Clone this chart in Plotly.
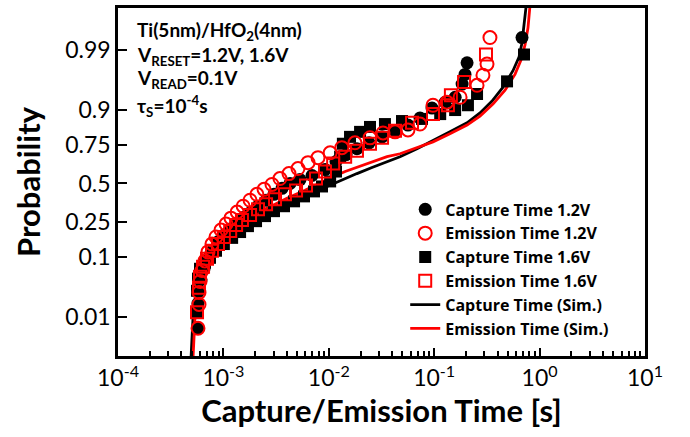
import statistics
import plotly.graph_objects as go

# ---------------- data ----------------
cap12_t = [5.74e-4, 5.74e-4, 5.87e-4, 6.13e-4, 6.55e-4, 7.14e-4, 7.97e-4, 8.89e-4, 1.01e-3, 1.16e-3,
           1.35e-3, 1.57e-3, 1.83e-3, 2.13e-3, 2.54e-3, 3.02e-3, 3.60e-3, 4.29e-3, 5.33e-3, 6.93e-3,
           9.20e-3, 1.17e-2, 1.46e-2, 1.85e-2, 2.41e-2, 3.20e-2, 4.25e-2, 5.64e-2, 7.33e-2, 9.53e-2,
           0.127, 0.158, 0.184, 0.196, 0.205, 0.681]
cap12_p = [0.0059, 0.0185, 0.031, 0.047, 0.069, 0.095, 0.124, 0.155, 0.185, 0.214,
           0.245, 0.279, 0.309, 0.346, 0.385, 0.425, 0.466, 0.500, 0.527, 0.555,
           0.595, 0.648, 0.691, 0.727, 0.760, 0.791, 0.820, 0.845, 0.872, 0.905,
           0.921, 0.933, 0.958, 0.971, 0.982, 0.9944]

emi12_t = [5.74e-4, 5.87e-4, 5.87e-4, 6.00e-4, 6.27e-4, 6.69e-4, 7.14e-4, 7.79e-4, 8.51e-4, 9.49e-4,
           1.06e-3, 1.18e-3, 1.35e-3, 1.54e-3, 1.79e-3, 2.08e-3, 2.43e-3, 2.89e-3, 3.44e-3, 4.19e-3,
           5.10e-3, 6.35e-3, 7.90e-3, 1.03e-2, 1.33e-2, 1.77e-2, 2.46e-2, 3.27e-2, 4.25e-2, 5.64e-2,
           7.33e-2, 9.74e-2, 0.132, 0.176, 0.255, 0.290, 0.317, 0.338]
emi12_p = [0.0059, 0.0177, 0.029, 0.044, 0.065, 0.089, 0.117, 0.146, 0.176, 0.209,
           0.240, 0.273, 0.309, 0.346, 0.385, 0.425, 0.459, 0.493, 0.534, 0.568,
           0.602, 0.641, 0.673, 0.703, 0.733, 0.760, 0.786, 0.810, 0.815, 0.824,
           0.849, 0.913, 0.921, 0.933, 0.956, 0.970, 0.981, 0.9944]

cap16_t = [5.50e-4, 5.62e-4, 5.74e-4, 6.00e-4, 6.69e-4, 7.46e-4, 8.51e-4, 1.01e-3, 1.21e-3, 1.44e-3,
           1.71e-3, 2.04e-3, 2.48e-3, 3.02e-3, 3.76e-3, 4.68e-3, 5.82e-3, 7.24e-3, 8.62e-3, 1.03e-2,
           1.17e-2, 1.28e-2, 1.36e-2, 1.59e-2, 1.98e-2, 2.46e-2, 3.41e-2, 4.95e-2, 7.66e-2, 0.114,
           0.158, 0.209, 0.255, 0.491, 0.711]
cap16_p = [0.0125, 0.031, 0.049, 0.069, 0.084, 0.098, 0.121, 0.146, 0.172, 0.199,
           0.229, 0.256, 0.285, 0.315, 0.346, 0.378, 0.411, 0.445, 0.479, 0.514,
           0.582, 0.679, 0.755, 0.791, 0.815, 0.837, 0.849, 0.861, 0.869, 0.886,
           0.899, 0.913, 0.940, 0.962, 0.9875]

emi16_t = [5.62e-4, 5.87e-4, 6.00e-4, 6.41e-4, 6.99e-4, 7.79e-4, 8.89e-4, 1.01e-3, 1.16e-3, 1.32e-3,
           1.50e-3, 1.79e-3, 2.13e-3, 2.54e-3, 3.09e-3, 3.84e-3, 4.89e-3, 6.08e-3, 7.56e-3, 9.20e-3,
           1.10e-2, 1.43e-2, 1.85e-2, 2.46e-2, 3.20e-2, 4.25e-2, 6.16e-2, 9.74e-2, 0.135, 0.144,
           0.192, 0.310]
emi16_p = [0.0125, 0.035, 0.0525, 0.074, 0.095, 0.121, 0.146, 0.176, 0.204, 0.235,
           0.262, 0.291, 0.327, 0.359, 0.391, 0.425, 0.452, 0.486, 0.534, 0.582,
           0.635, 0.679, 0.715, 0.755, 0.786, 0.820, 0.854, 0.886, 0.913, 0.9375,
           0.961, 0.9875]

simcap_t = [4.93e-4, 5.04e-4, 5.15e-4, 5.38e-4, 5.62e-4, 6.00e-4, 6.55e-4, 7.46e-4, 8.89e-4, 1.11e-3,
            1.44e-3, 2.00e-3, 2.77e-3, 3.84e-3, 5.33e-3, 8.25e-3, 1.22e-2, 1.85e-2, 2.57e-2, 3.57e-2,
            4.74e-2, 6.87e-2, 9.74e-2, 0.141, 0.205, 0.272, 0.354, 0.450, 0.559, 0.638,
            0.681, 0.711, 0.743, 0.75]
simcap_p = [0.0012, 0.0042, 0.0100, 0.021, 0.038, 0.060, 0.089, 0.124, 0.167, 0.214,
            0.256, 0.297, 0.327, 0.359, 0.398, 0.459, 0.514, 0.568, 0.609, 0.648,
            0.679, 0.727, 0.771, 0.815, 0.854, 0.890, 0.924, 0.953, 0.975, 0.986,
            0.9928, 0.9966, 0.9989, 0.9993]

simemi_t = [5.15e-4, 5.26e-4, 5.38e-4, 5.62e-4, 5.87e-4, 6.13e-4, 6.69e-4, 7.63e-4, 9.08e-4, 1.13e-3,
            1.47e-3, 2.04e-3, 2.83e-3, 4.01e-3, 5.95e-3, 9.61e-3, 1.43e-2, 2.21e-2, 3.57e-2, 4.74e-2,
            6.87e-2, 9.74e-2, 0.141, 0.205, 0.272, 0.361, 0.470, 0.584, 0.666, 0.727,
            0.776, 0.811, 0.82]
simemi_p = [0.0012, 0.0042, 0.0100, 0.021, 0.038, 0.060, 0.089, 0.124, 0.167, 0.214,
            0.256, 0.303, 0.346, 0.398, 0.452, 0.527, 0.582, 0.628, 0.679, 0.697,
            0.733, 0.765, 0.806, 0.845, 0.879, 0.916, 0.9475, 0.971, 0.984, 0.992,
            0.9966, 0.9989, 0.9993]

prob_ticks = [0.01, 0.1, 0.25, 0.5, 0.75, 0.9, 0.99]
prob_tick_labels = ["0.01", "0.1", "0.25", "0.5", "0.75", "0.9", "0.99"]
time_ticks = [1e-4, 1e-3, 1e-2, 1e-1, 1e0, 1e1]
time_tick_labels = ["10<sup>-4</sup>", "10<sup>-3</sup>", "10<sup>-2</sup>",
                    "10<sup>-1</sup>", "10<sup>0</sup>", "10<sup>1</sup>"]

# ---------------- helpers ----------------
_nd = statistics.NormalDist()


def probit(ps):
    return [_nd.inv_cdf(p) for p in ps]


FONT = "Lato"
RED = "#ff0000"

fig = go.Figure()

fig.add_trace(go.Scatter(x=simcap_t, y=probit(simcap_p), mode="lines",
                         line=dict(color="black", width=2.8),
                         name="<b>Capture Time (Sim.)</b>", legendrank=5))
fig.add_trace(go.Scatter(x=simemi_t, y=probit(simemi_p), mode="lines",
                         line=dict(color=RED, width=2.8),
                         name="<b>Emission Time (Sim.)</b>", legendrank=6))
fig.add_trace(go.Scatter(x=cap16_t, y=probit(cap16_p), mode="markers",
                         marker=dict(symbol="square", size=12, color="black"),
                         name="<b>Capture Time 1.6V</b>", legendrank=3))
fig.add_trace(go.Scatter(x=cap12_t, y=probit(cap12_p), mode="markers",
                         marker=dict(symbol="circle", size=13, color="black"),
                         name="<b>Capture Time 1.2V</b>", legendrank=1))
fig.add_trace(go.Scatter(x=emi16_t, y=probit(emi16_p), mode="markers",
                         marker=dict(symbol="square-open", size=12, color=RED,
                                     line=dict(width=2, color=RED)),
                         name="<b>Emission Time 1.6V</b>", legendrank=4))
fig.add_trace(go.Scatter(x=emi12_t, y=probit(emi12_p), mode="markers",
                         marker=dict(symbol="circle-open", size=13, color=RED,
                                     line=dict(width=2, color=RED)),
                         name="<b>Emission Time 1.2V</b>", legendrank=2))

fig.update_xaxes(type="log", range=[-4, 1], showgrid=False, zeroline=False,
                 showline=True, linecolor="black", linewidth=2.5, mirror=True,
                 ticks="inside", ticklen=8, tickwidth=1.5, tickcolor="black",
                 tickvals=time_ticks, ticktext=time_tick_labels,
                 tickfont=dict(family=FONT, size=23, color="black"),
                 minor=dict(ticks="inside", ticklen=5, tickwidth=1.5, tickcolor="black",
                            dtick="D1", showgrid=False),
                 title=dict(text="<b>Capture/Emission Time [s]</b>",
                            font=dict(family=FONT, size=31, color="black"), standoff=3))

fig.update_yaxes(range=[-3.0, 3.05], showgrid=False, zeroline=False,
                 showline=True, linecolor="black", linewidth=2.5, mirror=True,
                 ticks="inside", ticklen=9, tickwidth=2, tickcolor="black",
                 tickvals=probit(prob_ticks), ticktext=prob_tick_labels,
                 tickfont=dict(family=FONT, size=23, color="black"),
                 title=dict(text="<b>Probability</b>",
                            font=dict(family=FONT, size=31, color="black"), standoff=16))

info_lines = ["<b>Ti(5nm)/HfO<sub>2</sub>(4nm)</b>",
              "<b>V<sub>RESET</sub>=1.2V, 1.6V</b>",
              "<b>V<sub>READ</sub>=0.1V</b>",
              "<b>τ<sub>S</sub>=10<sup>-4</sup>s</b>"]
info_y = [0.935, 0.862, 0.797, 0.719]
for txt, yy in zip(info_lines, info_y):
    fig.add_annotation(text=txt, xref="paper", yref="paper", x=0.032, y=yy,
                       xanchor="left", yanchor="middle", showarrow=False,
                       font=dict(family=FONT, size=19, color="black"))

fig.update_layout(
    width=690, height=437,
    margin=dict(l=118, r=45, t=5, b=81),
    paper_bgcolor="white", plot_bgcolor="white",
    showlegend=True,
    legend=dict(x=0.545, y=0.47, xanchor="left", yanchor="top",
                bgcolor="rgba(0,0,0,0)", borderwidth=0,
                font=dict(family="Open Sans", size=16, color="black"),
                tracegroupgap=0, itemwidth=30),
)

fig.write_html("out.html")
